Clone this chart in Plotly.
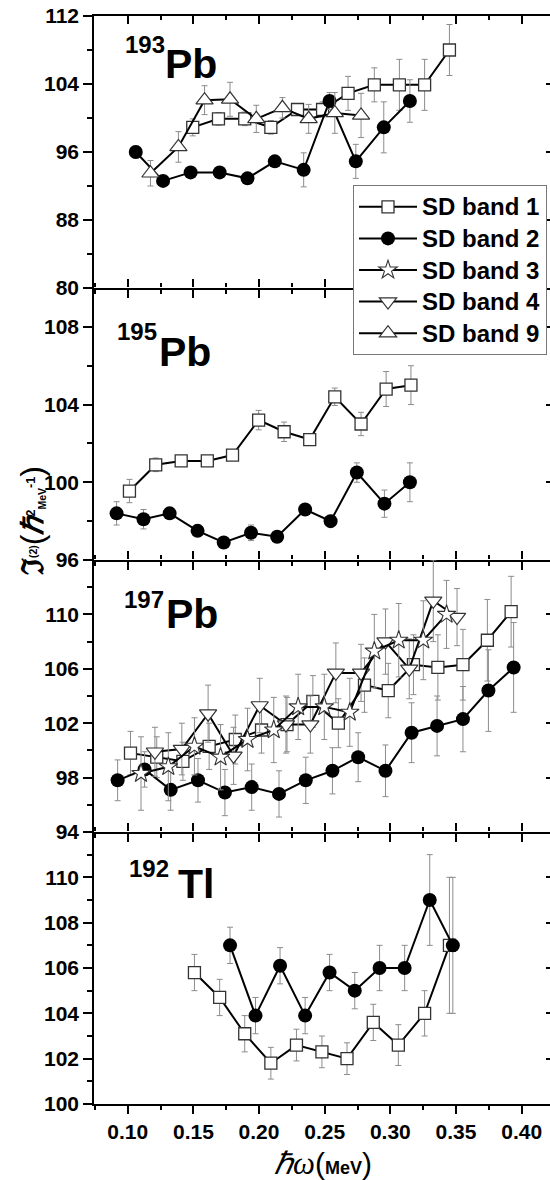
import plotly.graph_objects as go

# ---------------- data ----------------
# Panel 1: 193Pb
p1_b1_x = [0.1495, 0.1691, 0.1891, 0.2090, 0.2293, 0.2484, 0.2678, 0.2878, 0.3069, 0.3261, 0.3450]
p1_b1_y = [98.9, 99.9, 99.9, 98.9, 101.0, 101.0, 102.9, 103.9, 103.9, 103.9, 108.0]
p1_b1_e = [1.0, 0.75, 0.8, 0.8, 0.5, 0.9, 2.0, 2.0, 3.0, 3.0, 3.0]
p1_b2_x = [0.1061, 0.1269, 0.1479, 0.1700, 0.1912, 0.2120, 0.2340, 0.2537, 0.2737, 0.2950, 0.3149]
p1_b2_y = [96.0, 92.6, 93.6, 93.6, 92.9, 94.9, 93.9, 102.0, 94.9, 98.9, 102.0]
p1_b2_e = [0.7, 0.5, 0.4, 0.4, 0.6, 0.6, 2.0, 1.0, 2.0, 3.0, 2.5]
p1_b9_x = [0.1173, 0.1386, 0.1585, 0.1779, 0.1979, 0.2178, 0.2378, 0.2577, 0.2777]
p1_b9_y = [93.5, 96.6, 102.1, 102.2, 99.9, 101.2, 99.9, 100.6, 100.3]
p1_b9_e = [1.5, 1.8, 1.7, 2.0, 1.6, 1.2, 1.7, 2.4, 2.6]

# Panel 2: 195Pb
p2_b1_x = [0.1013, 0.1213, 0.1407, 0.1606, 0.1798, 0.1997, 0.2191, 0.2386, 0.2577, 0.2777, 0.2968, 0.3157]
p2_b1_y = [99.55, 100.9, 101.1, 101.1, 101.4, 103.2, 102.6, 102.2, 104.4, 103.0, 104.8, 105.0]
p2_b1_e = [0.6, 0.35, 0.0, 0.0, 0.0, 0.5, 0.5, 0.0, 0.45, 0.6, 0.9, 1.0]
p2_b2_x = [0.0915, 0.1120, 0.1319, 0.1532, 0.1731, 0.1939, 0.2138, 0.2351, 0.2545, 0.2745, 0.2955, 0.3149]
p2_b2_y = [98.4, 98.1, 98.4, 97.5, 96.9, 97.4, 97.2, 98.6, 98.0, 100.5, 98.9, 100.0]
p2_b2_e = [0.6, 0.5, 0.0, 0.0, 0.0, 0.4, 0.0, 0.0, 0.3, 0.5, 0.7, 1.0]

# Panel 3: 197Pb
p3_b1_x = [0.1021, 0.1221, 0.1420, 0.1620, 0.1819, 0.2019, 0.2213, 0.2410, 0.2604, 0.2803, 0.2984, 0.3176, 0.3362, 0.3553, 0.3739, 0.3920]
p3_b1_y = [99.8, 99.5, 99.2, 100.3, 100.8, 101.5, 101.9, 103.6, 102.0, 104.8, 104.4, 106.3, 106.1, 106.3, 108.1, 110.2]
p3_b1_e = [1.6, 1.5, 1.4, 1.7, 1.8, 1.7, 2.0, 1.9, 1.8, 2.0, 2.0, 2.2, 2.4, 2.6, 3.0, 2.6]
p3_b2_x = [0.0923, 0.1128, 0.1327, 0.1535, 0.1740, 0.1944, 0.2152, 0.2356, 0.2559, 0.2755, 0.2963, 0.3162, 0.3356, 0.3553, 0.3747, 0.3939]
p3_b2_y = [97.8, 98.6, 97.1, 97.8, 96.9, 97.3, 96.8, 97.8, 98.5, 99.5, 98.5, 101.3, 101.8, 102.3, 104.4, 106.1]
p3_b2_e = [1.5, 1.3, 1.5, 1.6, 1.7, 1.7, 1.7, 1.7, 1.7, 1.8, 1.9, 2.2, 2.2, 2.4, 3.0, 3.3]
p3_b3_x = [0.1101, 0.1309, 0.1508, 0.1707, 0.1912, 0.2112, 0.2298, 0.2497, 0.2691, 0.2878, 0.3064, 0.3251, 0.3428]
p3_b3_y = [98.3, 98.8, 100.3, 99.5, 100.8, 101.5, 103.2, 103.2, 102.8, 107.3, 108.1, 108.1, 110.0]
p3_b3_e = [2.7, 2.5, 2.1, 2.4, 2.3, 2.4, 2.4, 2.4, 2.5, 2.7, 2.7, 2.9, 2.5]
p3_b4_x = [0.1207, 0.1412, 0.1612, 0.1806, 0.2005, 0.2205, 0.2391, 0.2585, 0.2777, 0.2963, 0.3144, 0.3327, 0.3508]
p3_b4_y = [99.9, 100.1, 102.7, 99.6, 103.3, 101.9, 101.9, 105.7, 105.7, 108.0, 106.0, 111.0, 109.8]
p3_b4_e = [1.8, 1.9, 2.1, 2.1, 2.0, 2.1, 2.1, 2.2, 2.1, 2.4, 2.2, 3.0, 2.1]

# Panel 4: 192Tl
p4_b1_x = [0.1508, 0.1700, 0.1891, 0.2090, 0.2285, 0.2479, 0.2670, 0.2870, 0.3061, 0.3261, 0.3450]
p4_b1_y = [105.8, 104.7, 103.1, 101.8, 102.6, 102.3, 102.0, 103.6, 102.6, 104.0, 107.0]
p4_b1_e = [0.8, 0.8, 0.8, 0.7, 0.7, 0.7, 0.7, 0.8, 0.9, 1.0, 3.0]
p4_b2_x = [0.1779, 0.1973, 0.2160, 0.2351, 0.2537, 0.2729, 0.2918, 0.3109, 0.3300, 0.3476]
p4_b2_y = [107.0, 103.9, 106.1, 103.9, 105.8, 105.0, 106.0, 106.0, 109.0, 107.0]
p4_b2_e = [0.8, 0.8, 0.8, 0.8, 0.8, 0.8, 1.0, 1.0, 2.0, 3.0]

nuclei_mass = ["193", "195", "197", "192"]
nuclei_elem = ["Pb", "Pb", "Pb", "Tl"]
band_names = ["SD band 1", "SD band 2", "SD band 3", "SD band 4", "SD band 9"]

y_ranges = [[80, 112], [96, 110], [94, 114], [100, 112]]
y_ticks = [[80, 88, 96, 104, 112], [96, 100, 104, 108], [94, 98, 102, 106, 110], [100, 102, 104, 106, 108, 110]]
y_minor = [[84, 92, 100, 108], [98, 102, 106], [96, 100, 104, 108, 112], [101, 103, 105, 107, 109, 111]]
x_range = [0.0743, 0.4216]

# ---------------- styles ----------------
W, H = 550, 1180
ML, MR, MT, MB = 94, 0, 16, 76
FONT = "Liberation Sans, Arial, sans-serif"
ERR_COL = "#8c8c8c"

styles = {
    "SD band 1": dict(symbol="square", size=12, color="#333333", lw=1.3, fill="white"),
    "SD band 2": dict(symbol="circle", size=14, color="black", lw=0, fill="black"),
    "SD band 3": dict(symbol="star", size=14, color="#333333", lw=1.1, fill="white"),
    "SD band 4": dict(symbol="triangle-down", size=15, color="#333333", lw=1.2, fill="white"),
    "SD band 9": dict(symbol="triangle-up", size=15, color="#333333", lw=1.2, fill="white"),
}
rank = {n: i for i, n in enumerate(band_names)}

fig = go.Figure()
shown = set()


def add(panel, name, xs, ys, es):
    st = styles[name]
    sl = name not in shown
    shown.add(name)
    suffix = "" if panel == 1 else str(panel)
    fig.add_trace(go.Scatter(
        x=xs, y=ys, mode="lines+markers", name=name, showlegend=sl, legendrank=rank[name],
        line=dict(color="black", width=2),
        marker=dict(symbol=st["symbol"], size=st["size"], color=st["fill"],
                    line=dict(color=st["color"], width=st["lw"])),
        error_y=dict(type="data", array=es, visible=True, color=ERR_COL, thickness=1, width=3),
        xaxis="x" + suffix, yaxis="y" + suffix,
    ))


add(1, "SD band 1", p1_b1_x, p1_b1_y, p1_b1_e)
add(1, "SD band 2", p1_b2_x, p1_b2_y, p1_b2_e)
add(1, "SD band 9", p1_b9_x, p1_b9_y, p1_b9_e)
add(2, "SD band 1", p2_b1_x, p2_b1_y, p2_b1_e)
add(2, "SD band 2", p2_b2_x, p2_b2_y, p2_b2_e)
add(3, "SD band 1", p3_b1_x, p3_b1_y, p3_b1_e)
add(3, "SD band 2", p3_b2_x, p3_b2_y, p3_b2_e)
add(3, "SD band 4", p3_b4_x, p3_b4_y, p3_b4_e)
add(3, "SD band 3", p3_b3_x, p3_b3_y, p3_b3_e)
add(4, "SD band 1", p4_b1_x, p4_b1_y, p4_b1_e)
add(4, "SD band 2", p4_b2_x, p4_b2_y, p4_b2_e)

# legend: entry text drawn at 24px, row pitch set by a 22px legend font
for tr in fig.data:
    if tr.showlegend:
        tr.name = "<span style='font-size:24px'>" + tr.name + "</span>"

tickfont = dict(family=FONT, size=21, color="black", weight="bold")
layout = dict(
    width=W, height=H,
    margin=dict(l=ML, r=MR, t=MT, b=MB),
    paper_bgcolor="white", plot_bgcolor="white",
    showlegend=True,
    legend=dict(x=(353 - ML) / (W - ML), y=(H - MB - 185) / (H - MB - MT), xanchor="left", yanchor="top",
                bgcolor="white", bordercolor="#777777", borderwidth=1,
                font=dict(family=FONT, size=22, color="black", weight="bold"),
                tracegroupgap=0, itemwidth=58),
)

XT = dict(tick0=0.1, dtick=0.05, tickwidth=1.5, tickcolor="black", range=x_range,
          showgrid=False, zeroline=False)
n = 4
for i in range(n):
    k = i + 1
    sfx = "" if k == 1 else str(k)
    top = 1 - i / n
    bot = 1 - (i + 1) / n
    layout["xaxis" + sfx] = dict(
        domain=[0, 1], anchor="y" + sfx, tickformat=".2f",
        ticks="outside", ticklen=8,
        minor=dict(tick0=0.1, dtick=0.025, ticks="outside", ticklen=4, tickwidth=1.5, tickcolor="black"),
        showline=True, linecolor="black", linewidth=1.5,
        mirror=(k == 1),
        showticklabels=(k == n), tickfont=tickfont, **XT,
    )
    layout["yaxis" + sfx] = dict(
        domain=[bot, top], anchor="x" + sfx, range=y_ranges[i],
        tickmode="array", tickvals=y_ticks[i],
        ticks="outside", ticklen=9, tickwidth=1.5, tickcolor="black",
        minor=dict(tickmode="array", tickvals=y_minor[i], ticks="outside", ticklen=5, tickwidth=1.5,
                   tickcolor="black"),
        showline=True, linecolor="black", linewidth=1.5,
        showgrid=False, zeroline=False, tickfont=tickfont,
    )
    # right-side inward ticks
    layout["yaxis" + str(10 + k)] = dict(
        overlaying="y" + sfx, anchor="x" + sfx, side="right", range=y_ranges[i],
        tickmode="array", tickvals=y_ticks[i], ticks="inside", ticklen=4, tickwidth=1.5,
        tickcolor="black", showticklabels=False, showline=False, showgrid=False, zeroline=False,
    )
    fig.add_trace(go.Scatter(x=[], y=[], xaxis="x" + sfx, yaxis="y" + str(10 + k), showlegend=False,
                             hoverinfo="skip"))
    # top-edge ticks (inward for the top panel, outward otherwise)
    tdir = "inside" if k == 1 else "outside"
    layout["xaxis" + str(10 + k)] = dict(
        overlaying="x" + sfx, anchor="y" + sfx, side="top",
        ticks=tdir, ticklen=8,
        minor=dict(tick0=0.1, dtick=0.025, ticks=tdir, ticklen=4, tickwidth=1.5, tickcolor="black"),
        showticklabels=False, showline=False, **XT,
    )
    fig.add_trace(go.Scatter(x=[], y=[], xaxis="x" + str(10 + k), yaxis="y" + sfx, showlegend=False,
                             hoverinfo="skip"))


def xp(px):
    return (px - ML) / (W - ML - MR)


def yp(py):
    return (H - MB - py) / (H - MB - MT)


ann = []
label_pos = [(123, 45, 163, 64), (115, 332, 157, 352), (122, 599, 164, 614), (127, 868, 176, 884)]
for i in range(n):
    sx, sy, ex, ey = label_pos[i]
    ann.append(dict(x=xp(sx), y=yp(sy), xref="paper", yref="paper", xanchor="left", yanchor="middle",
                    text=nuclei_mass[i], showarrow=False,
                    font=dict(family=FONT, size=24, color="black", weight="bold")))
    ann.append(dict(x=xp(ex), y=yp(ey), xref="paper", yref="paper", xanchor="left", yanchor="middle",
                    text=nuclei_elem[i], showarrow=False,
                    font=dict(family=FONT, size=41, color="black", weight="bold")))

# y-axis title
ytitle = ("<span style='font-family:Liberation Serif;font-size:30px'>ℑ</span>"
          "<span style='font-size:15px'><sup>(2)</sup></span>"
          "<span style='font-size:32px;font-weight:normal'>(</span>"
          "<span style='font-family:Liberation Serif;font-size:30px;font-style:italic'>ℏ</span>"
          "<span style='font-size:18px'><sup>2</sup></span>"
          "<span style='font-size:15px'><sub>MeV</sub></span>"
          "<span style='font-size:18px'><sup>-1</sup></span>"
          "<span style='font-size:32px;font-weight:normal'>)</span>")
ann.append(dict(x=xp(32), y=yp(521), xref="paper", yref="paper", xanchor="center", yanchor="middle",
                text=ytitle, textangle=-90, showarrow=False,
                font=dict(family=FONT, size=22, color="black", weight="bold")))

# x-axis title
xtitle = ("<span style='font-family:Liberation Serif;font-style:italic;font-weight:normal;font-size:31px'>ℏω</span>"
          "<span style='font-size:30px;font-weight:normal'>(</span>"
          "<span style='font-size:18px'>MeV</span>"
          "<span style='font-size:30px;font-weight:normal'>)</span>")
ann.append(dict(x=xp(323), y=yp(1163), xref="paper", yref="paper", xanchor="center", yanchor="middle",
                text=xtitle, showarrow=False,
                font=dict(family=FONT, size=22, color="black", weight="bold")))

layout["annotations"] = ann
fig.update_layout(**layout)
fig.write_html("out.html")
